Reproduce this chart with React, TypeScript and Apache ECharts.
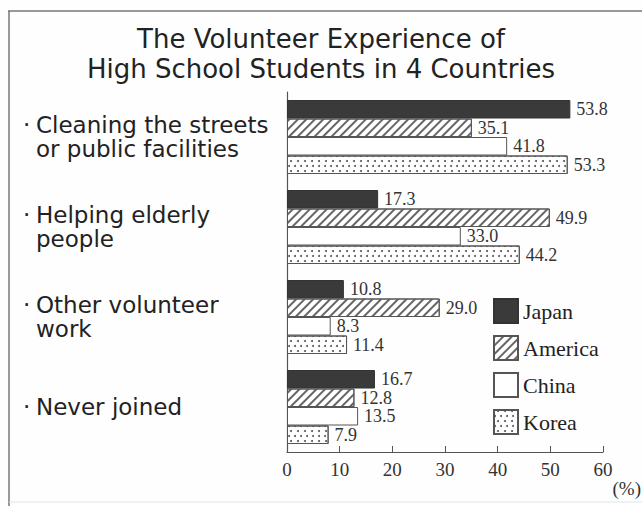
import React, { useEffect, useRef } from "react";
import * as echarts from "echarts";

const categories = [
  ["Cleaning the streets", "or public facilities"],
  ["Helping elderly", "people"],
  ["Other volunteer", "work"],
  ["Never joined"],
];
const countries = ["Japan", "America", "China", "Korea"];
const japan = [53.8, 17.3, 10.8, 16.7];
const america = [35.1, 49.9, 29.0, 12.8];
const china = [41.8, 33.0, 8.3, 13.5];
const korea = [53.3, 44.2, 11.4, 7.9];
const xTicks = [0, 10, 20, 30, 40, 50, 60];
const titleLines = ["The Volunteer Experience of", "High School Students in 4 Countries"];
const unitLabel = "(%)";

const SANS = "'DejaVu Sans', 'Noto Sans', sans-serif";
const SERIF = "'Liberation Serif', 'DejaVu Serif', serif";

export default function App() {
  const ref = useRef<HTMLDivElement>(null);
  useEffect(() => {
    if (!ref.current) return;
    const chart = echarts.init(ref.current, undefined, { renderer: "svg" });
    const values = [japan, america, china, korea];
    const styles: any[] = [
      { color: "#3a3a3a", borderColor: "#333", borderWidth: 1 },
      {
        color: "#ffffff",
        borderColor: "#555",
        borderWidth: 1,
        decal: {
          symbol: "rect",
          color: "#666",
          dashArrayX: [1, 0],
          dashArrayY: [1.2, 3.2],
          rotation: -Math.PI / 4,
        },
      },
      { color: "#ffffff", borderColor: "#555", borderWidth: 1 },
      {
        color: "#ffffff",
        borderColor: "#555",
        borderWidth: 1,
        decal: {
          symbol: "circle",
          symbolSize: 1,
          color: "#555",
          dashArrayX: [[1.2, 3.8], [0, 2.5, 1.2, 1.3]],
          dashArrayY: [1.2, 2.2],
          rotation: 0,
        },
      },
    ];
    const series = countries.map((name, i) => ({
      name,
      type: "bar",
      data: values[i],
      barWidth: 18.5,
      barGap: "0%",
      itemStyle: styles[i],
      label: {
        show: true,
        position: "right",
        distance: 6,
        fontFamily: SERIF,
        fontSize: 18,
        lineHeight: 17,
        color: "#333",
        formatter: (p: any) => Number(p.value).toFixed(1),
      },
    }));
    chart.setOption({
      animation: false,
      backgroundColor: "#fefefe",
      title: {
        text: titleLines.join("\n"),
        left: "center",
        top: 19,
        textStyle: {
          fontFamily: SANS,
          fontSize: 26,
          fontWeight: "normal",
          color: "#222",
          lineHeight: 30,
        },
      },
      legend: {
        orient: "vertical",
        left: 493,
        top: 298,
        padding: 0,
        itemWidth: 24,
        itemHeight: 24,
        itemGap: 11,
        icon: "rect",
        data: countries,
        textStyle: { fontFamily: SERIF, fontSize: 22, color: "#222", padding: [0, 0, 0, 0] },
      },
      grid: { left: 287, right: 39, top: 92, bottom: 54 },
      xAxis: {
        type: "value",
        min: xTicks[0],
        max: xTicks[xTicks.length - 1],
        interval: 10,
        axisLine: { show: true, lineStyle: { color: "#555", width: 1.2 } },
        axisTick: { show: true, inside: true, length: 6, lineStyle: { color: "#555" } },
        splitLine: { show: false },
        axisLabel: { fontFamily: SERIF, fontSize: 19, color: "#333", margin: 8 },
      },
      yAxis: {
        type: "category",
        inverse: true,
        data: categories.map((c) => c.join("\n")),
        axisLine: { show: true, lineStyle: { color: "#555", width: 1.2 } },
        axisTick: { show: false },
        axisLabel: {
          align: "left",
          margin: 264,
          formatter: (v: string) => {
            const lines = v.split("\n");
            return lines
              .map((l, i) => (i === 0 ? `{d|·}{t|${l}}` : `{s| }{t|${l}}`))
              .join("\n");
          },
          rich: {
            d: { fontFamily: SANS, fontSize: 23, color: "#222", width: 13, lineHeight: 24 },
            s: { fontFamily: SANS, fontSize: 23, width: 13, lineHeight: 24 },
            t: { fontFamily: SANS, fontSize: 23, color: "#222", lineHeight: 24 },
          },
        },
      },
      graphic: [
        {
          type: "line",
          shape: { x1: 8, y1: 11, x2: 642, y2: 11 },
          style: { stroke: "#777", lineWidth: 1.5 },
          silent: true,
        },
        {
          type: "line",
          shape: { x1: 9, y1: 11, x2: 9, y2: 506 },
          style: { stroke: "#777", lineWidth: 1.5 },
          silent: true,
        },
        {
          type: "line",
          shape: { x1: 9, y1: 502, x2: 642, y2: 502 },
          style: { stroke: "#e4e4e4", lineWidth: 1 },
          silent: true,
        },
        {
          type: "text",
          right: 1,
          top: 479,
          style: { text: unitLabel, fontFamily: SERIF, fontSize: 19, fill: "#333" },
        },
      ],
      series,
    });
    return () => chart.dispose();
  }, []);
  return (
    <div
      ref={ref}
      style={{ position: "fixed", left: 0, top: 0, width: 642, height: 506 }}
    />
  );
}
